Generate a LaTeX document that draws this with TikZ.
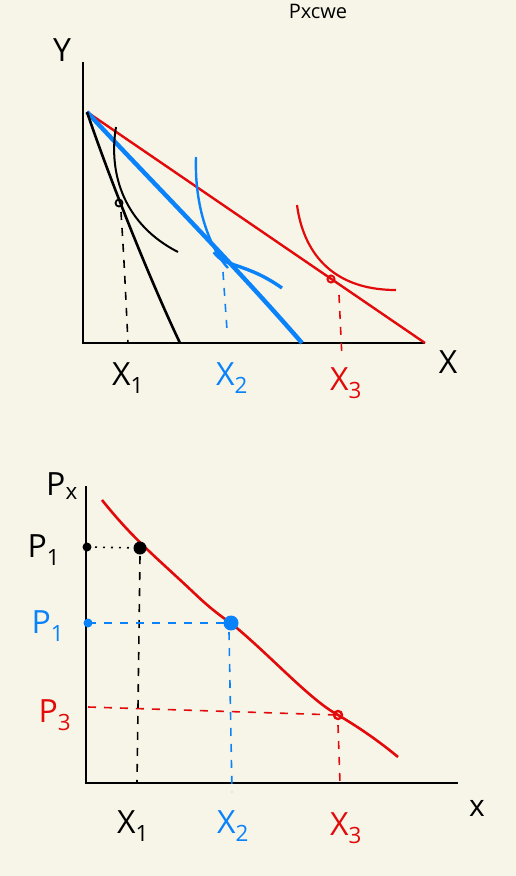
\documentclass[tikz,border=0pt]{standalone}
\usepackage{fontspec}
\setmainfont{Open Sans}
\definecolor{bg}{RGB}{247,245,232}
\definecolor{myblue}{RGB}{10,130,250}
\definecolor{myred}{RGB}{226,10,10}
\begin{document}
\begin{tikzpicture}[x=1pt,y=-1pt,
  axis/.style={line width=2.6pt,black},
  lbl/.style={font=\fontsize{32}{34}\selectfont,inner sep=0pt},
  hdash/.style={line width=1.6pt,dash pattern=on 8pt off 8pt},
  hdot/.style={line width=1.6pt,dash pattern=on 2pt off 6pt},
  bcurve/.style={line width=2pt},
]
\useasboundingbox[fill=bg] (0,0) rectangle (516,876);
% title (at the top edge)
\node[font=\fontsize{20}{20}\selectfont,inner sep=0pt,anchor=south] (title) at (318,19) {Pxcwe};
% ===== top graph =====
\coordinate (o1) at (83,343);
\coordinate (ytop) at (83,62);
\coordinate (xend) at (425,343);
\coordinate (A) at (87,112);
\coordinate (b1) at (180,343);
\coordinate (b2) at (302,343);
\draw[axis] (ytop) -- (o1) -- (xend);
\node[lbl] (Y) at (62,50) {Y};
\node[lbl] (X) at (448,362) {X};
% budget lines
\draw[myred,line width=2.4pt] (A) -- (xend);
\draw[myblue,line width=4.4pt] (A) .. controls (150,180) and (230,260) .. (b2);
\draw[black,line width=2.6pt] (A) .. controls (110,180) and (150,280) .. (b1);
% indifference curves
\draw[black,bcurve] (116,127) .. controls (108,175) and (125,225) .. (178,252);
\coordinate (t1) at (119,203);
\draw[black,line width=1.8pt] (t1) circle (3.5pt);
\draw[myblue,line width=2.4pt] (196,157) .. controls (194,215) and (215,255) .. (228,268);
\draw[myblue,line width=3.4pt] (214,252) .. controls (225,268) and (245,262) .. (282,288);
\coordinate (t2) at (228,268);
\draw[myred,line width=2.2pt] (297,205) .. controls (303,250) and (330,290) .. (396,290);
\coordinate (t3) at (331,279);
\draw[myred,line width=2pt] (t3) circle (3.5pt);
% drops
\coordinate (d1) at (128,343);
\draw[black,hdash] (121,212) .. controls (124,260) .. (d1);
\coordinate (d2) at (227,330);
\draw[myblue,hdash] (223,272) -- (d2);
\coordinate (d3) at (342,358);
\draw[myred,hdash] (339,295) -- (d3);
\node[lbl] (X1) at (128,378) {X\textsubscript{1}};
\node[lbl,myblue] (X2) at (232,378) {X\textsubscript{2}};
\node[lbl,myred] (X3) at (346,383) {X\textsubscript{3}};
% ===== bottom graph =====
\coordinate (o2) at (86,783);
\coordinate (ptop) at (86,486);
\coordinate (xend2) at (458,783);
\draw[axis] (ptop) -- (o2) -- (xend2);
\node[lbl] (Px) at (62,486) {P\textsubscript{x}};
\node[font=\fontsize{30}{32}\selectfont] (xx) at (477,808) {x};
% demand curve
\draw[myred,line width=2.6pt] (102,500) .. controls (130,535) and (150,552) .. (178,578)
  .. controls (200,598) and (205,605) .. (232,624)
  .. controls (270,655) and (310,700) .. (338,715)
  .. controls (360,728) and (380,742) .. (398,757);
% points
\coordinate (pa) at (87,547);
\coordinate (q1) at (140,548);
\fill[black] (pa) circle (4.5pt);
\fill[black] (q1) circle (6.5pt);
\draw[black,hdot] (pa) -- (q1);
\draw[black,hdash] (140,556) -- (137,783);
\coordinate (pb) at (88,623);
\coordinate (q2) at (231,623);
\fill[myblue] (pb) circle (4.5pt);
\fill[myblue] (q2) circle (7.5pt);
\draw[myblue,hdash] (pb) -- (q2);
\draw[myblue,hdash] (229,632) -- (232,792);
\coordinate (pc) at (88,707);
\coordinate (q3) at (338,715);
\draw[myred,hdash] (pc) -- (q3);
\draw[myred,line width=2.4pt] (q3) circle (4pt);
\draw[myred,hdash] (338,725) -- (340,783);
\node[lbl] (P1a) at (44,550) {P\textsubscript{1}};
\node[lbl,myblue] (P1b) at (48,626) {P\textsubscript{1}};
\node[lbl,myred] (P3) at (55,715) {P\textsubscript{3}};
\node[lbl] (X1b) at (133,826) {X\textsubscript{1}};
\node[lbl,myblue] (X2b) at (233,826) {X\textsubscript{2}};
\node[lbl,myred] (X3b) at (346,828) {X\textsubscript{3}};
\end{tikzpicture}
\end{document}
